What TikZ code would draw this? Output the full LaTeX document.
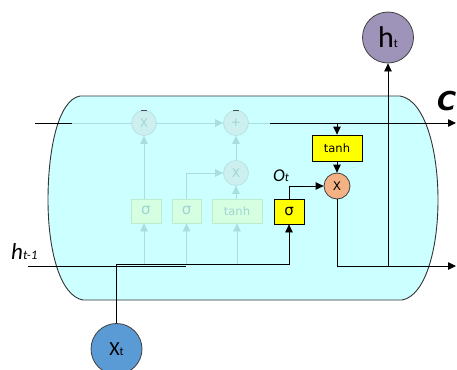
\documentclass[tikz,border=0pt]{standalone}
\usepackage{fontspec}
\setmainfont{Carlito}
\newfontfamily\dv{DejaVu Sans}
\newfontfamily\cfont{DejaVu Sans Bold Oblique}
\usetikzlibrary{arrows.meta}
\definecolor{cellfill}{RGB}{204,255,255}
\definecolor{yboxfill}{RGB}{255,255,0}
\definecolor{multfill}{RGB}{244,177,131}
\definecolor{htfill}{RGB}{158,148,186}
\definecolor{xtfill}{RGB}{91,155,213}
\definecolor{fadeline}{RGB}{170,222,222}
\definecolor{fadefill}{RGB}{214,255,226}
\definecolor{fadeborder}{RGB}{188,236,206}
\definecolor{fcircfill}{RGB}{204,240,240}
\definecolor{fcircborder}{RGB}{184,226,226}
\definecolor{fadetext}{RGB}{160,212,212}
\tikzset{
  cellline/.style={draw=black!80, line width=0.9pt},
  bline/.style={draw=black, line width=0.8pt},
  fline/.style={draw=fadeline, line width=0.8pt},
  tip/.style={-{Triangle[length=8pt,width=7.5pt]}},
  ftip/.style={-{Triangle[length=8pt,width=7.5pt,fill=fadeline]}},
  ybox/.style={draw=black, fill=yboxfill, line width=0.8pt, minimum width=30pt,
    minimum height=25pt, inner sep=0pt, font=\dv\fontsize{15}{15}\selectfont},
  fbox/.style={draw=fadeborder, fill=fadefill, line width=0.8pt, text=fadetext,
    minimum width=30pt, minimum height=24pt, inner sep=0pt, font=\dv\fontsize{15}{15}\selectfont},
  fcirc/.style={circle, draw=fcircborder, fill=fcircfill, line width=0.8pt, minimum size=25pt,
    inner sep=0pt, text=fadetext, font=\dv\fontsize{12}{12}\selectfont},
  bigcirc/.style={circle, draw=black!75, line width=0.8pt, minimum size=51pt, inner sep=0pt},
}
\begin{document}
\begin{tikzpicture}[x=1pt,y=-1pt]
\useasboundingbox (0,0) rectangle (457,369);
% cell body
\path[cellline, fill=cellfill] (80,96) -- (400,96)
  .. controls (425,100) and (438,150) .. (438,200)
  .. controls (438,250) and (425,296) .. (402,300) -- (83,300)
  .. controls (60,296) and (48,250) .. (48,200)
  .. controls (48,150) and (58,100) .. (80,96) -- cycle;

% faded (inactive) gates
\node[fcirc] (fc1) at (144,123) {X};
\node[fcirc] (fc2) at (236,123) {+};
\node[fcirc] (fc3) at (236,173) {X};
\node[fbox] (fs1) at (146,211) {σ};
\node[fbox, minimum width=29pt] (fs2) at (186.5,211) {σ};
\node[fbox, minimum width=50pt, font=\dv\fontsize{11.5}{11.5}\selectfont] (ft) at (237,211) {tanh};
\coordinate (fl0) at (72,123);
\coordinate (fl1) at (270,123);
\coordinate (fb1) at (144,264);
\coordinate (fb2) at (186.5,264);
\coordinate (fb3) at (237,264);
\draw[fline] (fl0) -- (fc1);
\draw[fline, ftip] (fc1) -- (fc2);
\draw[fline] (fc2) -- (fl1);
\draw[fline, ftip] (fs1.north -| fc1) -- (fc1);
\draw[fline, ftip] (fs2.north) |- (fc3.west);
\draw[fline, ftip] (ft.north -| fc3) -- (fc3);
\draw[fline, ftip] (fc3) -- (fc2);
\draw[fline, ftip] (fb1) -- (fb1 |- fs1.south);
\draw[fline, ftip] (fb2) -- (fs2.south);
\draw[fline, ftip] (fb3) -- (fb3 |- ft.south);
\draw[black!70, line width=0.8pt] (141,110.3) -- (147,110.3);
\draw[black!70, line width=0.8pt] (233,110.3) -- (239,110.3);

% active output gate
\node[ybox, minimum width=50pt, minimum height=26pt, font=\dv\fontsize{11.5}{11.5}\selectfont] (tanh) at (337,148) {tanh};
\node[ybox] (sig) at (289,211.5) {σ};
\node[circle, draw=black!75, fill=multfill, line width=0.8pt, minimum size=26pt, inner sep=0pt,
  font=\dv\fontsize{12}{12}\selectfont] (mul) at (337,186) {X};
\node[bigcirc, fill=htfill] (ht) at (388,37.5) {\fontsize{30}{30}\selectfont h\fontsize{12}{12}\selectfont t};
\node[bigcirc, fill=xtfill] (xt) at (116.5,349) {\fontsize{20}{20}\selectfont X\fontsize{12}{12}\selectfont t};

% labels
\node[anchor=base west, inner sep=0pt] (clab) at (437,110) {\cfont\fontsize{26}{26}\selectfont C};
\node[anchor=base west, inner sep=0pt] (hlab) at (11,259) {\fontsize{23}{23}\selectfont\itshape h\fontsize{13}{13}\selectfont t-1};
\node[anchor=base west, inner sep=0pt] (olab) at (273,181) {\fontsize{18}{18}\selectfont\itshape O\fontsize{12}{12}\selectfont t};

% connectors
\coordinate (cL) at (35,123);
\coordinate (cLe) at (72,123);
\coordinate (cS) at (270,123);
\coordinate (cE) at (456,123);
\coordinate (cT) at (337,123);
\coordinate (oE) at (456,266);
\coordinate (hb) at (388,266);
\coordinate (hL) at (28,266);
\coordinate (hR) at (186,266);
\coordinate (xa) at (116.5,264);
\coordinate (xb) at (289,264);
\draw[bline] (cL) -- (cLe);
\draw[bline, tip] (cS) -- (cE);
\draw[bline, tip] (cT) -- (tanh.north);
\draw[bline, tip] (tanh) -- (mul);
\draw[bline, tip] (sig.north) |- (mul.west);
\draw[bline, tip] (mul.south) |- (oE);
\draw[bline, tip] (hb) -- (ht.south);
\draw[bline] (hL) -- (hR);
\draw[bline, tip] (xt.north) -- (xa) -- (xb) -- (sig.south);
\end{tikzpicture}
\end{document}
